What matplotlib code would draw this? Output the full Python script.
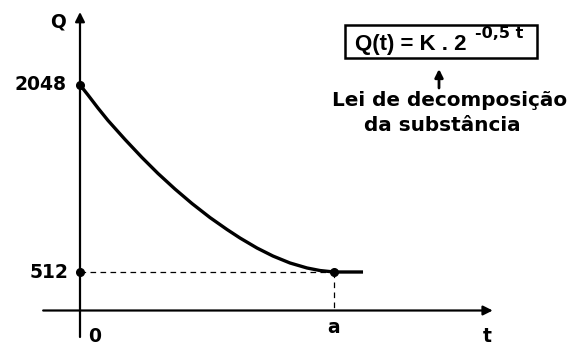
import numpy as np
import matplotlib
matplotlib.use("Agg")
import matplotlib.pyplot as plt
from matplotlib.patches import Rectangle, FancyArrowPatch

# curve (t in units where a = 4)
t_curve = [0.0, 0.126, 0.283, 0.441, 0.709, 0.976, 1.228, 1.496, 1.764, 2.047,
           2.315, 2.52, 2.787, 3.039, 3.307, 3.575, 3.78, 4.0, 4.457]
q_curve = [2048, 1965, 1858, 1756, 1600, 1452, 1321, 1193, 1074, 959,
           861, 791, 709, 643, 586, 545, 524, 512, 512]

q_start = 2048
q_end = 512
t_a = 4.0
y_labels = ["2048", "512"]
x_labels = ["0", "a"]
formula = "Q(t) = K . 2"
formula_exp = "-0,5 t"
note = ["Lei de decomposição", "da substância"]

W, H = 577, 345
fig = plt.figure(figsize=(W / 100, H / 100), dpi=100)
ax = fig.add_axes([0, 0, 1, 1])
ax.axis("off")

# pixel -> data scale (sketch, not to scale)
px_t = 63.5   # pixels per unit of t
q_px = 8.21   # Q units per pixel
x0_px, y512_px = 80, 272
ax.set_xlim(-x0_px / px_t, (W - x0_px) / px_t)
ax.set_ylim(q_end - (H - y512_px) * q_px, q_end + y512_px * q_px)

def fx(px):
    return px / W

def fy(py):
    return 1 - py / H

q_axis = q_end - (310.5 - y512_px) * q_px
ap = dict(arrowstyle="-|>", lw=1.6, color="black", mutation_scale=14, shrinkA=0, shrinkB=0)

# axes
ax.annotate("", xy=(6.5, q_axis), xytext=(-0.58, q_axis), arrowprops=ap)
ax.annotate("", xy=(0, q_end + (y512_px - 12) * q_px), xytext=(0, q_end - (337 - y512_px) * q_px),
            arrowprops=ap)

# guides
ax.plot([0, t_a], [q_end, q_end], color="black", lw=0.9, ls=(0, (4.5, 3.5)))
ax.plot([t_a, t_a], [q_end, q_axis], color="black", lw=0.9, ls=(0, (4.5, 3.5)))

# curve
ax.plot(t_curve, q_curve, color="black", lw=2.4, solid_joinstyle="round", solid_capstyle="butt")
ax.plot([0, 0, t_a], [q_start, q_end, q_end], "o", color="black", ms=5.5)

fs = 13.5
kw = dict(fontweight="bold", fontsize=fs, family="DejaVu Sans")
fig.text(fx(58), fy(27), "Q", ha="center", va="baseline", **kw)
fig.text(fx(66), fy(85), y_labels[0], ha="right", va="center", **kw)
fig.text(fx(68), fy(272), y_labels[1], ha="right", va="center", **kw)
fig.text(fx(95), fy(342), x_labels[0], ha="center", va="baseline", **kw)
fig.text(fx(334), fy(333), x_labels[1], ha="center", va="baseline", **kw)
fig.text(fx(487), fy(342), "t", ha="center", va="baseline", **kw)

# formula box
fig.patches.append(Rectangle((fx(345), fy(58)), fx(537) - fx(345), fy(25) - fy(58),
                             transform=fig.transFigure, fill=False, lw=1.8, ec="black"))
fig.text(fx(355), fy(50), formula, ha="left", va="baseline",
         fontweight="bold", fontsize=16, family="Liberation Sans")
fig.text(fx(475), fy(38), formula_exp, ha="left", va="baseline",
         fontweight="bold", fontsize=11.5, family="DejaVu Sans")

fig.patches.append(FancyArrowPatch(
    (fx(439), fy(88)), (fx(439), fy(69)), transform=fig.transFigure,
    arrowstyle="-|>", mutation_scale=12, lw=2, color="black", shrinkA=0, shrinkB=0))
fig.text(fx(450), fy(106), note[0], ha="center", va="baseline",
         fontweight="bold", fontsize=14.4, family="DejaVu Sans")
fig.text(fx(442), fy(131), note[1], ha="center", va="baseline",
         fontweight="bold", fontsize=14.4, family="DejaVu Sans")

fig.savefig("out.png", dpi=100)
